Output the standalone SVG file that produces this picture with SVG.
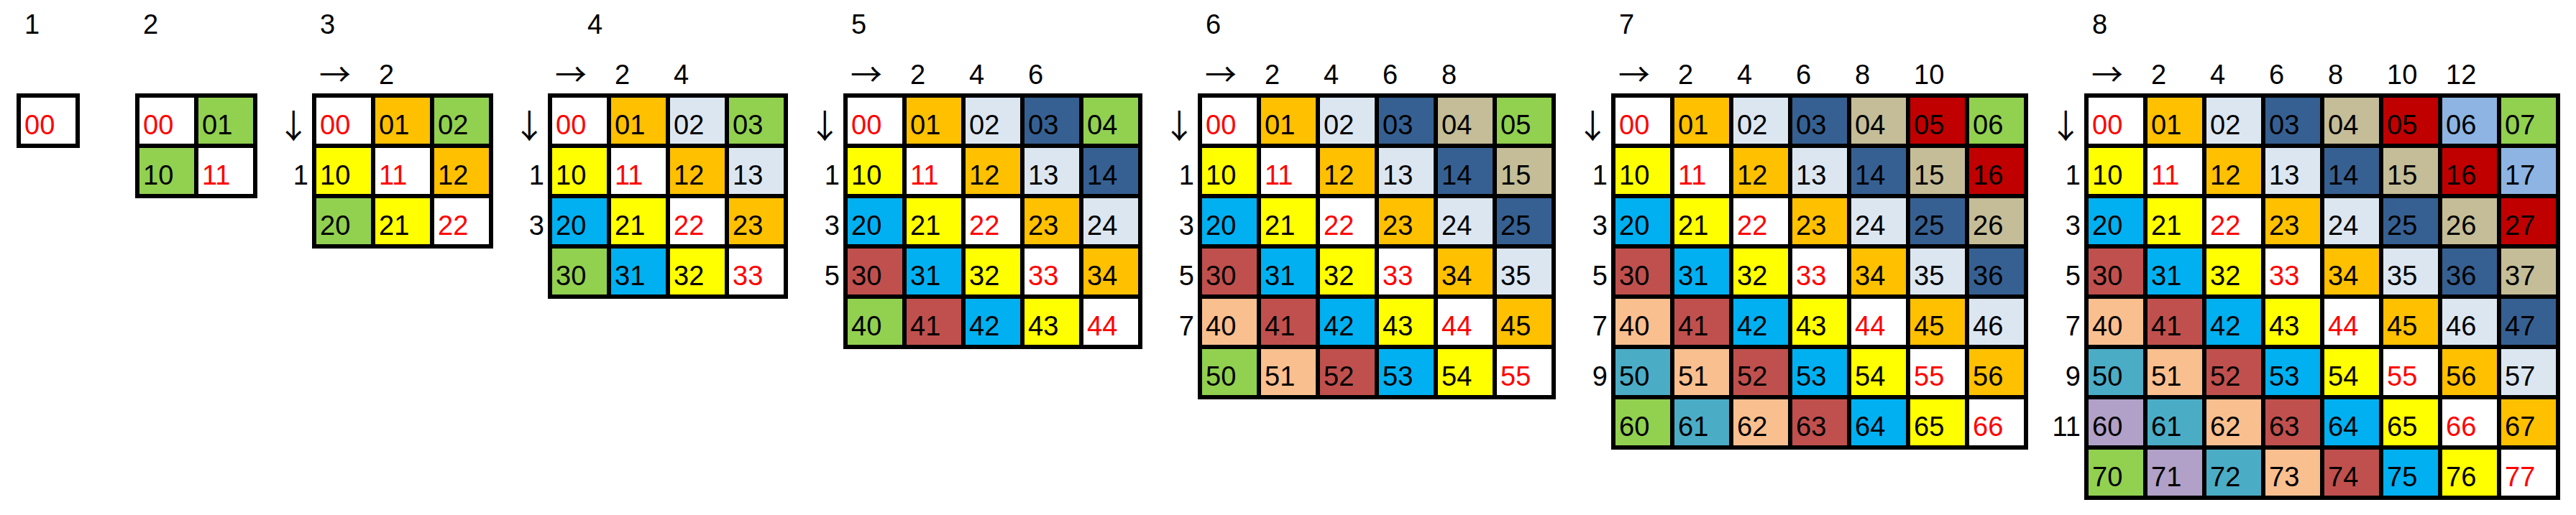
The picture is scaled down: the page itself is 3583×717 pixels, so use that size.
<svg xmlns="http://www.w3.org/2000/svg" width="3583" height="717" viewBox="0 0 3583 717">
<style>
text { font-family: "Liberation Sans", Arial, sans-serif; font-size: 38px; fill: #000000; }
text.r { fill: #FF0000; }
text.ar { font-family: "Noto Sans CJK JP", "DejaVu Sans", sans-serif; font-size: 44px; }
text.ad { font-family: "Noto Sans CJK JP", "DejaVu Sans", sans-serif; font-size: 46px; text-anchor: middle; }
text.rl { text-anchor: end; }
.bg { fill: #000000; }
.w { fill: #FFFFFF; } .o { fill: #FFC000; } .l { fill: #DCE6F1; } .d { fill: #366092; }
.n { fill: #C4BD97; } .m { fill: #C00000; } .s { fill: #8DB4E2; } .g { fill: #92D050; }
.y { fill: #FFFF00; } .c { fill: #00B0F0; } .b { fill: #C0504D; } .p { fill: #FABF8F; }
.t { fill: #4BACC6; } .u { fill: #B1A0C7; }
</style>
<rect x="0" y="0" width="3583" height="717" fill="#FFFFFF"/>
<g id="connectors"></g>

<g id="grid-1" transform="translate(23,130)">
<text x="11" y="-83">1</text>
<rect class="bg" width="88" height="76"/>
<rect class="w" x="6" y="6" width="76" height="64"/><text class="r" x="11" y="57">00</text>
</g>

<g id="grid-2" transform="translate(188,130)">
<text x="11" y="-83">2</text>
<rect class="bg" width="170" height="146"/>
<rect class="w" x="6" y="6" width="76" height="64"/><text class="r" x="11" y="57">00</text>
<rect class="g" x="88" y="6" width="76" height="64"/><text x="93" y="57">01</text>
<rect class="g" x="6" y="76" width="76" height="64"/><text x="11" y="127">10</text>
<rect class="w" x="88" y="76" width="76" height="64"/><text class="r" x="93" y="127">11</text>
</g>

<g id="grid-3" transform="translate(434,130)">
<text x="11" y="-83">3</text>
<text class="ar" x="10" y="-10">→</text>
<text x="93" y="-13">2</text>
<text class="ad" x="-25.7" y="62">↓</text>
<text class="rl" x="-5" y="127">1</text>
<rect class="bg" width="252" height="216"/>
<rect class="w" x="6" y="6" width="76" height="64"/><text class="r" x="11" y="57">00</text>
<rect class="o" x="88" y="6" width="76" height="64"/><text x="93" y="57">01</text>
<rect class="g" x="170" y="6" width="76" height="64"/><text x="175" y="57">02</text>
<rect class="y" x="6" y="76" width="76" height="64"/><text x="11" y="127">10</text>
<rect class="w" x="88" y="76" width="76" height="64"/><text class="r" x="93" y="127">11</text>
<rect class="o" x="170" y="76" width="76" height="64"/><text x="175" y="127">12</text>
<rect class="g" x="6" y="146" width="76" height="64"/><text x="11" y="197">20</text>
<rect class="y" x="88" y="146" width="76" height="64"/><text x="93" y="197">21</text>
<rect class="w" x="170" y="146" width="76" height="64"/><text class="r" x="175" y="197">22</text>
</g>

<g id="grid-4" transform="translate(762,130)">
<text x="55" y="-83">4</text>
<text class="ar" x="10" y="-10">→</text>
<text x="93" y="-13">2</text><text x="175" y="-13">4</text>
<text class="ad" x="-25.7" y="62">↓</text>
<text class="rl" x="-5" y="127">1</text><text class="rl" x="-5" y="197">3</text>
<rect class="bg" width="334" height="286"/>
<rect class="w" x="6" y="6" width="76" height="64"/><text class="r" x="11" y="57">00</text>
<rect class="o" x="88" y="6" width="76" height="64"/><text x="93" y="57">01</text>
<rect class="l" x="170" y="6" width="76" height="64"/><text x="175" y="57">02</text>
<rect class="g" x="252" y="6" width="76" height="64"/><text x="257" y="57">03</text>
<rect class="y" x="6" y="76" width="76" height="64"/><text x="11" y="127">10</text>
<rect class="w" x="88" y="76" width="76" height="64"/><text class="r" x="93" y="127">11</text>
<rect class="o" x="170" y="76" width="76" height="64"/><text x="175" y="127">12</text>
<rect class="l" x="252" y="76" width="76" height="64"/><text x="257" y="127">13</text>
<rect class="c" x="6" y="146" width="76" height="64"/><text x="11" y="197">20</text>
<rect class="y" x="88" y="146" width="76" height="64"/><text x="93" y="197">21</text>
<rect class="w" x="170" y="146" width="76" height="64"/><text class="r" x="175" y="197">22</text>
<rect class="o" x="252" y="146" width="76" height="64"/><text x="257" y="197">23</text>
<rect class="g" x="6" y="216" width="76" height="64"/><text x="11" y="267">30</text>
<rect class="c" x="88" y="216" width="76" height="64"/><text x="93" y="267">31</text>
<rect class="y" x="170" y="216" width="76" height="64"/><text x="175" y="267">32</text>
<rect class="w" x="252" y="216" width="76" height="64"/><text class="r" x="257" y="267">33</text>
</g>

<g id="grid-5" transform="translate(1173,130)">
<text x="11" y="-83">5</text>
<text class="ar" x="10" y="-10">→</text>
<text x="93" y="-13">2</text><text x="175" y="-13">4</text><text x="257" y="-13">6</text>
<text class="ad" x="-25.7" y="62">↓</text>
<text class="rl" x="-5" y="127">1</text><text class="rl" x="-5" y="197">3</text><text class="rl" x="-5" y="267">5</text>
<rect class="bg" width="416" height="356"/>
<rect class="w" x="6" y="6" width="76" height="64"/><text class="r" x="11" y="57">00</text>
<rect class="o" x="88" y="6" width="76" height="64"/><text x="93" y="57">01</text>
<rect class="l" x="170" y="6" width="76" height="64"/><text x="175" y="57">02</text>
<rect class="d" x="252" y="6" width="76" height="64"/><text x="257" y="57">03</text>
<rect class="g" x="334" y="6" width="76" height="64"/><text x="339" y="57">04</text>
<rect class="y" x="6" y="76" width="76" height="64"/><text x="11" y="127">10</text>
<rect class="w" x="88" y="76" width="76" height="64"/><text class="r" x="93" y="127">11</text>
<rect class="o" x="170" y="76" width="76" height="64"/><text x="175" y="127">12</text>
<rect class="l" x="252" y="76" width="76" height="64"/><text x="257" y="127">13</text>
<rect class="d" x="334" y="76" width="76" height="64"/><text x="339" y="127">14</text>
<rect class="c" x="6" y="146" width="76" height="64"/><text x="11" y="197">20</text>
<rect class="y" x="88" y="146" width="76" height="64"/><text x="93" y="197">21</text>
<rect class="w" x="170" y="146" width="76" height="64"/><text class="r" x="175" y="197">22</text>
<rect class="o" x="252" y="146" width="76" height="64"/><text x="257" y="197">23</text>
<rect class="l" x="334" y="146" width="76" height="64"/><text x="339" y="197">24</text>
<rect class="b" x="6" y="216" width="76" height="64"/><text x="11" y="267">30</text>
<rect class="c" x="88" y="216" width="76" height="64"/><text x="93" y="267">31</text>
<rect class="y" x="170" y="216" width="76" height="64"/><text x="175" y="267">32</text>
<rect class="w" x="252" y="216" width="76" height="64"/><text class="r" x="257" y="267">33</text>
<rect class="o" x="334" y="216" width="76" height="64"/><text x="339" y="267">34</text>
<rect class="g" x="6" y="286" width="76" height="64"/><text x="11" y="337">40</text>
<rect class="b" x="88" y="286" width="76" height="64"/><text x="93" y="337">41</text>
<rect class="c" x="170" y="286" width="76" height="64"/><text x="175" y="337">42</text>
<rect class="y" x="252" y="286" width="76" height="64"/><text x="257" y="337">43</text>
<rect class="w" x="334" y="286" width="76" height="64"/><text class="r" x="339" y="337">44</text>
</g>

<g id="grid-6" transform="translate(1666,130)">
<text x="11" y="-83">6</text>
<text class="ar" x="10" y="-10">→</text>
<text x="93" y="-13">2</text><text x="175" y="-13">4</text><text x="257" y="-13">6</text><text x="339" y="-13">8</text>
<text class="ad" x="-25.7" y="62">↓</text>
<text class="rl" x="-5" y="127">1</text><text class="rl" x="-5" y="197">3</text><text class="rl" x="-5" y="267">5</text><text class="rl" x="-5" y="337">7</text>
<rect class="bg" width="498" height="426"/>
<rect class="w" x="6" y="6" width="76" height="64"/><text class="r" x="11" y="57">00</text>
<rect class="o" x="88" y="6" width="76" height="64"/><text x="93" y="57">01</text>
<rect class="l" x="170" y="6" width="76" height="64"/><text x="175" y="57">02</text>
<rect class="d" x="252" y="6" width="76" height="64"/><text x="257" y="57">03</text>
<rect class="n" x="334" y="6" width="76" height="64"/><text x="339" y="57">04</text>
<rect class="g" x="416" y="6" width="76" height="64"/><text x="421" y="57">05</text>
<rect class="y" x="6" y="76" width="76" height="64"/><text x="11" y="127">10</text>
<rect class="w" x="88" y="76" width="76" height="64"/><text class="r" x="93" y="127">11</text>
<rect class="o" x="170" y="76" width="76" height="64"/><text x="175" y="127">12</text>
<rect class="l" x="252" y="76" width="76" height="64"/><text x="257" y="127">13</text>
<rect class="d" x="334" y="76" width="76" height="64"/><text x="339" y="127">14</text>
<rect class="n" x="416" y="76" width="76" height="64"/><text x="421" y="127">15</text>
<rect class="c" x="6" y="146" width="76" height="64"/><text x="11" y="197">20</text>
<rect class="y" x="88" y="146" width="76" height="64"/><text x="93" y="197">21</text>
<rect class="w" x="170" y="146" width="76" height="64"/><text class="r" x="175" y="197">22</text>
<rect class="o" x="252" y="146" width="76" height="64"/><text x="257" y="197">23</text>
<rect class="l" x="334" y="146" width="76" height="64"/><text x="339" y="197">24</text>
<rect class="d" x="416" y="146" width="76" height="64"/><text x="421" y="197">25</text>
<rect class="b" x="6" y="216" width="76" height="64"/><text x="11" y="267">30</text>
<rect class="c" x="88" y="216" width="76" height="64"/><text x="93" y="267">31</text>
<rect class="y" x="170" y="216" width="76" height="64"/><text x="175" y="267">32</text>
<rect class="w" x="252" y="216" width="76" height="64"/><text class="r" x="257" y="267">33</text>
<rect class="o" x="334" y="216" width="76" height="64"/><text x="339" y="267">34</text>
<rect class="l" x="416" y="216" width="76" height="64"/><text x="421" y="267">35</text>
<rect class="p" x="6" y="286" width="76" height="64"/><text x="11" y="337">40</text>
<rect class="b" x="88" y="286" width="76" height="64"/><text x="93" y="337">41</text>
<rect class="c" x="170" y="286" width="76" height="64"/><text x="175" y="337">42</text>
<rect class="y" x="252" y="286" width="76" height="64"/><text x="257" y="337">43</text>
<rect class="w" x="334" y="286" width="76" height="64"/><text class="r" x="339" y="337">44</text>
<rect class="o" x="416" y="286" width="76" height="64"/><text x="421" y="337">45</text>
<rect class="g" x="6" y="356" width="76" height="64"/><text x="11" y="407">50</text>
<rect class="p" x="88" y="356" width="76" height="64"/><text x="93" y="407">51</text>
<rect class="b" x="170" y="356" width="76" height="64"/><text x="175" y="407">52</text>
<rect class="c" x="252" y="356" width="76" height="64"/><text x="257" y="407">53</text>
<rect class="y" x="334" y="356" width="76" height="64"/><text x="339" y="407">54</text>
<rect class="w" x="416" y="356" width="76" height="64"/><text class="r" x="421" y="407">55</text>
</g>

<g id="grid-7" transform="translate(2241,130)">
<text x="11" y="-83">7</text>
<text class="ar" x="10" y="-10">→</text>
<text x="93" y="-13">2</text><text x="175" y="-13">4</text><text x="257" y="-13">6</text><text x="339" y="-13">8</text><text x="421" y="-13">10</text>
<text class="ad" x="-25.7" y="62">↓</text>
<text class="rl" x="-5" y="127">1</text><text class="rl" x="-5" y="197">3</text><text class="rl" x="-5" y="267">5</text><text class="rl" x="-5" y="337">7</text><text class="rl" x="-5" y="407">9</text>
<rect class="bg" width="580" height="496"/>
<rect class="w" x="6" y="6" width="76" height="64"/><text class="r" x="11" y="57">00</text>
<rect class="o" x="88" y="6" width="76" height="64"/><text x="93" y="57">01</text>
<rect class="l" x="170" y="6" width="76" height="64"/><text x="175" y="57">02</text>
<rect class="d" x="252" y="6" width="76" height="64"/><text x="257" y="57">03</text>
<rect class="n" x="334" y="6" width="76" height="64"/><text x="339" y="57">04</text>
<rect class="m" x="416" y="6" width="76" height="64"/><text x="421" y="57">05</text>
<rect class="g" x="498" y="6" width="76" height="64"/><text x="503" y="57">06</text>
<rect class="y" x="6" y="76" width="76" height="64"/><text x="11" y="127">10</text>
<rect class="w" x="88" y="76" width="76" height="64"/><text class="r" x="93" y="127">11</text>
<rect class="o" x="170" y="76" width="76" height="64"/><text x="175" y="127">12</text>
<rect class="l" x="252" y="76" width="76" height="64"/><text x="257" y="127">13</text>
<rect class="d" x="334" y="76" width="76" height="64"/><text x="339" y="127">14</text>
<rect class="n" x="416" y="76" width="76" height="64"/><text x="421" y="127">15</text>
<rect class="m" x="498" y="76" width="76" height="64"/><text x="503" y="127">16</text>
<rect class="c" x="6" y="146" width="76" height="64"/><text x="11" y="197">20</text>
<rect class="y" x="88" y="146" width="76" height="64"/><text x="93" y="197">21</text>
<rect class="w" x="170" y="146" width="76" height="64"/><text class="r" x="175" y="197">22</text>
<rect class="o" x="252" y="146" width="76" height="64"/><text x="257" y="197">23</text>
<rect class="l" x="334" y="146" width="76" height="64"/><text x="339" y="197">24</text>
<rect class="d" x="416" y="146" width="76" height="64"/><text x="421" y="197">25</text>
<rect class="n" x="498" y="146" width="76" height="64"/><text x="503" y="197">26</text>
<rect class="b" x="6" y="216" width="76" height="64"/><text x="11" y="267">30</text>
<rect class="c" x="88" y="216" width="76" height="64"/><text x="93" y="267">31</text>
<rect class="y" x="170" y="216" width="76" height="64"/><text x="175" y="267">32</text>
<rect class="w" x="252" y="216" width="76" height="64"/><text class="r" x="257" y="267">33</text>
<rect class="o" x="334" y="216" width="76" height="64"/><text x="339" y="267">34</text>
<rect class="l" x="416" y="216" width="76" height="64"/><text x="421" y="267">35</text>
<rect class="d" x="498" y="216" width="76" height="64"/><text x="503" y="267">36</text>
<rect class="p" x="6" y="286" width="76" height="64"/><text x="11" y="337">40</text>
<rect class="b" x="88" y="286" width="76" height="64"/><text x="93" y="337">41</text>
<rect class="c" x="170" y="286" width="76" height="64"/><text x="175" y="337">42</text>
<rect class="y" x="252" y="286" width="76" height="64"/><text x="257" y="337">43</text>
<rect class="w" x="334" y="286" width="76" height="64"/><text class="r" x="339" y="337">44</text>
<rect class="o" x="416" y="286" width="76" height="64"/><text x="421" y="337">45</text>
<rect class="l" x="498" y="286" width="76" height="64"/><text x="503" y="337">46</text>
<rect class="t" x="6" y="356" width="76" height="64"/><text x="11" y="407">50</text>
<rect class="p" x="88" y="356" width="76" height="64"/><text x="93" y="407">51</text>
<rect class="b" x="170" y="356" width="76" height="64"/><text x="175" y="407">52</text>
<rect class="c" x="252" y="356" width="76" height="64"/><text x="257" y="407">53</text>
<rect class="y" x="334" y="356" width="76" height="64"/><text x="339" y="407">54</text>
<rect class="w" x="416" y="356" width="76" height="64"/><text class="r" x="421" y="407">55</text>
<rect class="o" x="498" y="356" width="76" height="64"/><text x="503" y="407">56</text>
<rect class="g" x="6" y="426" width="76" height="64"/><text x="11" y="477">60</text>
<rect class="t" x="88" y="426" width="76" height="64"/><text x="93" y="477">61</text>
<rect class="p" x="170" y="426" width="76" height="64"/><text x="175" y="477">62</text>
<rect class="b" x="252" y="426" width="76" height="64"/><text x="257" y="477">63</text>
<rect class="c" x="334" y="426" width="76" height="64"/><text x="339" y="477">64</text>
<rect class="y" x="416" y="426" width="76" height="64"/><text x="421" y="477">65</text>
<rect class="w" x="498" y="426" width="76" height="64"/><text class="r" x="503" y="477">66</text>
</g>

<g id="grid-8" transform="translate(2899,130)">
<text x="11" y="-83">8</text>
<text class="ar" x="10" y="-10">→</text>
<text x="93" y="-13">2</text><text x="175" y="-13">4</text><text x="257" y="-13">6</text><text x="339" y="-13">8</text><text x="421" y="-13">10</text><text x="503" y="-13">12</text>
<text class="ad" x="-25.7" y="62">↓</text>
<text class="rl" x="-5" y="127">1</text><text class="rl" x="-5" y="197">3</text><text class="rl" x="-5" y="267">5</text><text class="rl" x="-5" y="337">7</text><text class="rl" x="-5" y="407">9</text><text class="rl" x="-5" y="477">11</text>
<rect class="bg" width="662" height="566"/>
<rect class="w" x="6" y="6" width="76" height="64"/><text class="r" x="11" y="57">00</text>
<rect class="o" x="88" y="6" width="76" height="64"/><text x="93" y="57">01</text>
<rect class="l" x="170" y="6" width="76" height="64"/><text x="175" y="57">02</text>
<rect class="d" x="252" y="6" width="76" height="64"/><text x="257" y="57">03</text>
<rect class="n" x="334" y="6" width="76" height="64"/><text x="339" y="57">04</text>
<rect class="m" x="416" y="6" width="76" height="64"/><text x="421" y="57">05</text>
<rect class="s" x="498" y="6" width="76" height="64"/><text x="503" y="57">06</text>
<rect class="g" x="580" y="6" width="76" height="64"/><text x="585" y="57">07</text>
<rect class="y" x="6" y="76" width="76" height="64"/><text x="11" y="127">10</text>
<rect class="w" x="88" y="76" width="76" height="64"/><text class="r" x="93" y="127">11</text>
<rect class="o" x="170" y="76" width="76" height="64"/><text x="175" y="127">12</text>
<rect class="l" x="252" y="76" width="76" height="64"/><text x="257" y="127">13</text>
<rect class="d" x="334" y="76" width="76" height="64"/><text x="339" y="127">14</text>
<rect class="n" x="416" y="76" width="76" height="64"/><text x="421" y="127">15</text>
<rect class="m" x="498" y="76" width="76" height="64"/><text x="503" y="127">16</text>
<rect class="s" x="580" y="76" width="76" height="64"/><text x="585" y="127">17</text>
<rect class="c" x="6" y="146" width="76" height="64"/><text x="11" y="197">20</text>
<rect class="y" x="88" y="146" width="76" height="64"/><text x="93" y="197">21</text>
<rect class="w" x="170" y="146" width="76" height="64"/><text class="r" x="175" y="197">22</text>
<rect class="o" x="252" y="146" width="76" height="64"/><text x="257" y="197">23</text>
<rect class="l" x="334" y="146" width="76" height="64"/><text x="339" y="197">24</text>
<rect class="d" x="416" y="146" width="76" height="64"/><text x="421" y="197">25</text>
<rect class="n" x="498" y="146" width="76" height="64"/><text x="503" y="197">26</text>
<rect class="m" x="580" y="146" width="76" height="64"/><text x="585" y="197">27</text>
<rect class="b" x="6" y="216" width="76" height="64"/><text x="11" y="267">30</text>
<rect class="c" x="88" y="216" width="76" height="64"/><text x="93" y="267">31</text>
<rect class="y" x="170" y="216" width="76" height="64"/><text x="175" y="267">32</text>
<rect class="w" x="252" y="216" width="76" height="64"/><text class="r" x="257" y="267">33</text>
<rect class="o" x="334" y="216" width="76" height="64"/><text x="339" y="267">34</text>
<rect class="l" x="416" y="216" width="76" height="64"/><text x="421" y="267">35</text>
<rect class="d" x="498" y="216" width="76" height="64"/><text x="503" y="267">36</text>
<rect class="n" x="580" y="216" width="76" height="64"/><text x="585" y="267">37</text>
<rect class="p" x="6" y="286" width="76" height="64"/><text x="11" y="337">40</text>
<rect class="b" x="88" y="286" width="76" height="64"/><text x="93" y="337">41</text>
<rect class="c" x="170" y="286" width="76" height="64"/><text x="175" y="337">42</text>
<rect class="y" x="252" y="286" width="76" height="64"/><text x="257" y="337">43</text>
<rect class="w" x="334" y="286" width="76" height="64"/><text class="r" x="339" y="337">44</text>
<rect class="o" x="416" y="286" width="76" height="64"/><text x="421" y="337">45</text>
<rect class="l" x="498" y="286" width="76" height="64"/><text x="503" y="337">46</text>
<rect class="d" x="580" y="286" width="76" height="64"/><text x="585" y="337">47</text>
<rect class="t" x="6" y="356" width="76" height="64"/><text x="11" y="407">50</text>
<rect class="p" x="88" y="356" width="76" height="64"/><text x="93" y="407">51</text>
<rect class="b" x="170" y="356" width="76" height="64"/><text x="175" y="407">52</text>
<rect class="c" x="252" y="356" width="76" height="64"/><text x="257" y="407">53</text>
<rect class="y" x="334" y="356" width="76" height="64"/><text x="339" y="407">54</text>
<rect class="w" x="416" y="356" width="76" height="64"/><text class="r" x="421" y="407">55</text>
<rect class="o" x="498" y="356" width="76" height="64"/><text x="503" y="407">56</text>
<rect class="l" x="580" y="356" width="76" height="64"/><text x="585" y="407">57</text>
<rect class="u" x="6" y="426" width="76" height="64"/><text x="11" y="477">60</text>
<rect class="t" x="88" y="426" width="76" height="64"/><text x="93" y="477">61</text>
<rect class="p" x="170" y="426" width="76" height="64"/><text x="175" y="477">62</text>
<rect class="b" x="252" y="426" width="76" height="64"/><text x="257" y="477">63</text>
<rect class="c" x="334" y="426" width="76" height="64"/><text x="339" y="477">64</text>
<rect class="y" x="416" y="426" width="76" height="64"/><text x="421" y="477">65</text>
<rect class="w" x="498" y="426" width="76" height="64"/><text class="r" x="503" y="477">66</text>
<rect class="o" x="580" y="426" width="76" height="64"/><text x="585" y="477">67</text>
<rect class="g" x="6" y="496" width="76" height="64"/><text x="11" y="547">70</text>
<rect class="u" x="88" y="496" width="76" height="64"/><text x="93" y="547">71</text>
<rect class="t" x="170" y="496" width="76" height="64"/><text x="175" y="547">72</text>
<rect class="p" x="252" y="496" width="76" height="64"/><text x="257" y="547">73</text>
<rect class="b" x="334" y="496" width="76" height="64"/><text x="339" y="547">74</text>
<rect class="c" x="416" y="496" width="76" height="64"/><text x="421" y="547">75</text>
<rect class="y" x="498" y="496" width="76" height="64"/><text x="503" y="547">76</text>
<rect class="w" x="580" y="496" width="76" height="64"/><text class="r" x="585" y="547">77</text>
</g>
</svg>
